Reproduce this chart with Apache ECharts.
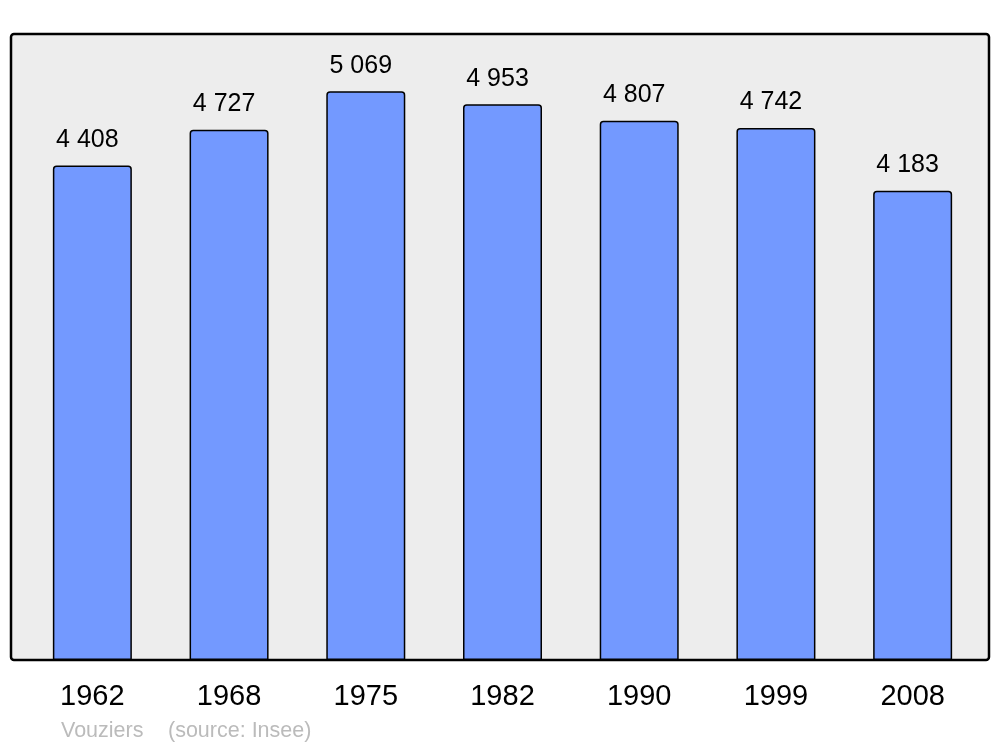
<!DOCTYPE html>
<html>
<head>
<meta charset="utf-8">
<script src="https://cdn.jsdelivr.net/npm/echarts@6/dist/echarts.min.js"></script>
<style>
	html, body { margin: 0; padding: 0; background: #fff; }
	#chart { width: 1000px; height: 747px; }
</style>
</head>
<body>
<div id="chart"></div>
<script>
	var years = ['1962', '1968', '1975', '1982', '1990', '1999', '2008'];
	var population = [4408, 4727, 5069, 4953, 4807, 4742, 4183];
	var townName = 'Vouziers';
	var sourceText = '(source: Insee)';

	var chart = echarts.init(document.getElementById('chart'));

	function spaced(v) {
		return String(v).replace(/\B(?=(\d{3})+(?!\d))/g, ' ');
	}

	var option = {
		animation: false,
		textStyle: { fontFamily: 'Liberation Sans, Arial, sans-serif' },
		grid: {
			left: 24,
			right: 19,
			top: 34,
			bottom: 87
		},
		graphic: [{
			type: 'rect',
			z: -10,
			shape: { x: 11, y: 34, width: 978, height: 626, r: 3 },
			style: { fill: '#ededed', stroke: '#000', lineWidth: 2.5 }
		}, {
			type: 'text',
			left: 61,
			top: 720,
			style: { text: townName, fill: '#bbbbbb', fontSize: 21.5, fontFamily: 'Liberation Sans, Arial, sans-serif' }
		}, {
			type: 'text',
			left: 168,
			top: 720,
			style: { text: sourceText, fill: '#bbbbbb', fontSize: 21.5, fontFamily: 'Liberation Sans, Arial, sans-serif' }
		}],
		xAxis: {
			type: 'category',
			data: years,
			axisLine: { show: false },
			axisTick: { show: false },
			axisLabel: {
				color: '#000',
				fontSize: 29,
				margin: 22,
				interval: 0
			}
		},
		yAxis: {
			type: 'value',
			min: 0,
			max: 5580,
			show: false,
			splitLine: { show: false }
		},
		series: [{
			type: 'bar',
			data: population,
			barWidth: 79,
			itemStyle: {
				color: '#7399ff',
				borderColor: '#000',
				borderWidth: 1.5,
				borderRadius: [3, 3, 0, 0]
			},
			label: {
				show: true,
				position: 'top',
				distance: 13,
				offset: [-5, 0],
				color: '#000',
				fontSize: 25,
				formatter: function (p) { return spaced(p.value); }
			}
		}]
	};
	chart.setOption(option);
</script>
</body>
</html>
